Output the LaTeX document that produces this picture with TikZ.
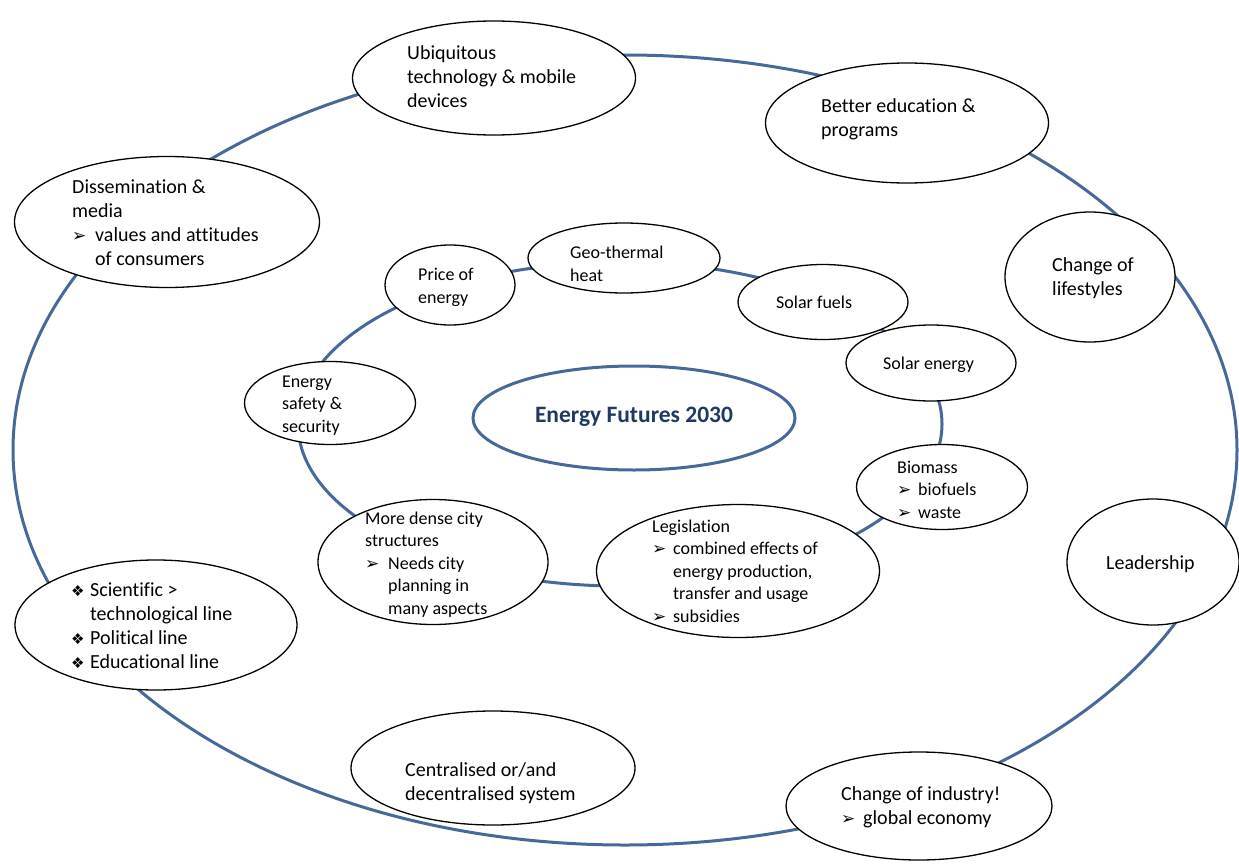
\documentclass[tikz,border=0pt]{standalone}
\usepackage{fontspec}
\setmainfont{Carlito}[Ligatures=NoCommon]
\newfontfamily\symfont{DejaVu Sans}
\usetikzlibrary{shapes.geometric}

\definecolor{ringblue}{HTML}{47699A}
\definecolor{titlenavy}{HTML}{1F3864}

% bullet glyphs
\newcommand\arr{{\symfont\fontsize{17}{17}\selectfont ➢}}
\newcommand\dia{{\symfont\fontsize{15}{15}\selectfont ❖}}
% bullet set in a box of given width, and indentation for continued lines
\newcommand\bul[2]{\makebox[#1][l]{#2}}
\newcommand\ind[1]{\hspace*{#1}}

\tikzset{
  ring/.style={draw=ringblue, line width=3pt},
  bubble/.style={ellipse, draw=black, line width=1.3pt, fill=white, inner sep=0pt},
  hub/.style={ellipse, draw=ringblue, line width=3pt, fill=white, inner sep=0pt},
  % texts are placed by the baseline of their last line
  outertext/.style={anchor=base west, align=left, inner sep=0pt,
    font=\fontsize{20}{24}\selectfont},
  innertext/.style={anchor=base west, align=left, inner sep=0pt,
    font=\fontsize{18}{22.5}\selectfont},
}

\begin{document}
\begin{tikzpicture}[x=1pt,y=-1pt]
\useasboundingbox (0,0) rectangle (1239,867);
\fill[white] (0,0) rectangle (1239,867);

% the two rings
\draw[ring] (625,450) ellipse [x radius=612pt, y radius=395pt];
\draw[ring] (620,424) ellipse [x radius=322pt, y radius=162pt];

% outer ring bubbles
\node[bubble, minimum width=283pt, minimum height=114pt] (ubi) at (494,78) {};
\node[outertext] (ubi-t) at (407,107) {Ubiquitous\\technology \& mobile\\devices};

\node[bubble, minimum width=283pt, minimum height=120pt] (edu) at (907,123) {};
\node[outertext] (edu-t) at (821,136) {Better education \&\\programs};

\node[bubble, minimum width=170pt, minimum height=130pt] (life) at (1090,277) {};
\node[outertext] (life-t) at (1052,295) {Change of\\lifestyles};

\node[bubble, minimum width=172pt, minimum height=126pt] (lead) at (1153,562) {};
\node[outertext] (lead-t) at (1106,569) {Leadership};

\node[bubble, minimum width=266pt, minimum height=108pt] (ind) at (919,806) {};
\node[outertext] (ind-t) at (841,824) {Change of industry!\\\bul{22pt}{\arr}global economy};

\node[bubble, minimum width=284pt, minimum height=114pt] (cen) at (493,768) {};
\node[outertext] (cen-t) at (405,800) {Centralised or/and\\decentralised system};

\node[bubble, minimum width=282pt, minimum height=130pt] (sci) at (156,625) {};
\node[outertext] (sci-t) at (71,668) {\bul{19pt}{\dia}Scientific >\\\ind{19pt}technological line\\\bul{19pt}{\dia}Political line\\\bul{19pt}{\dia}Educational line};

\node[bubble, minimum width=305pt, minimum height=131pt] (dis) at (167,222) {};
\node[outertext] (dis-t) at (72,265) {Dissemination \&\\media\\\bul{23pt}{\arr}values and attitudes\\\ind{23pt}of consumers};

% inner ring bubbles
\node[bubble, minimum width=130pt, minimum height=80pt] (price) at (450,285) {};
\node[innertext] (price-t) at (418,303) {Price of\\energy};

\node[bubble, minimum width=192pt, minimum height=70pt] (geo) at (624,258) {};
\node[innertext] (geo-t) at (570,281) {Geo\symbol{45}thermal\\heat};

\node[bubble, minimum width=170pt, minimum height=75pt] (sfuel) at (823,302) {};
\node[innertext] (sfuel-t) at (776,308) {Solar fuels};

\node[bubble, minimum width=170pt, minimum height=76pt] (senergy) at (931,363) {};
\node[innertext] (senergy-t) at (883,369) {Solar energy};

\node[bubble, minimum width=171pt, minimum height=83pt] (safe) at (330,403) {};
\node[innertext] (safe-t) at (282,432) {Energy\\safety \&\\security};

\node[bubble, minimum width=171pt, minimum height=85pt] (bio) at (942,487) {};
\node[innertext] (bio-t) at (897,518) {Biomass\\\bul{21pt}{\arr}biofuels\\\bul{21pt}{\arr}waste};

\node[bubble, minimum width=230pt, minimum height=125pt] (dense) at (433,562) {};
\node[innertext] (dense-t) at (365,614) {More dense city\\structures\\\bul{23pt}{\arr}Needs city\\\ind{23pt}planning in\\\ind{23pt}many aspects};

\node[bubble, minimum width=283pt, minimum height=133pt] (leg) at (738,571) {};
\node[innertext] (leg-t) at (652,622) {Legislation\\\bul{21pt}{\arr}combined effects of\\\ind{21pt}energy production,\\\ind{21pt}transfer and usage\\\bul{21pt}{\arr}subsidies};

% centre
\node[hub, minimum width=322pt, minimum height=104pt] (hub) at (634,418) {};
\node[font=\fontsize{23.5}{28}\selectfont\bfseries, text=titlenavy, inner sep=0pt] (hub-t) at (634,417) {Energy Futures 2030};
\end{tikzpicture}
\end{document}
